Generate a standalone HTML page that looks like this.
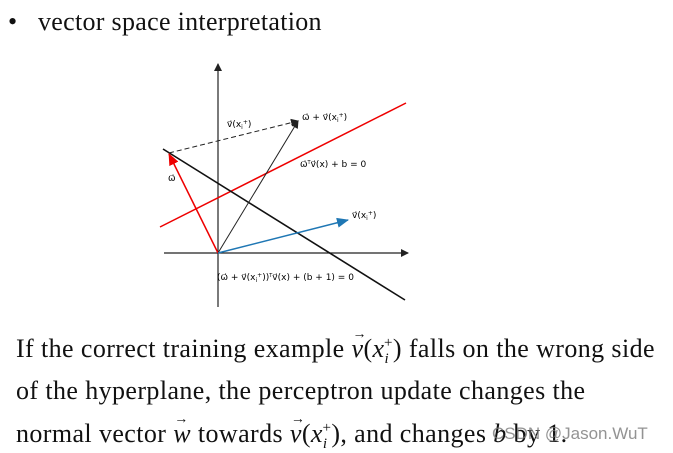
<!DOCTYPE html>
<html><head><style>
body{margin:0;width:673px;height:452px;background:#fff;overflow:hidden;position:relative;font-family:"Liberation Serif",serif;color:#111}
.t{position:absolute;white-space:nowrap;font-size:26px;letter-spacing:0.4px}
.v{position:relative;display:inline-block;font-style:italic}
.v b{position:absolute;left:1px;top:-7px;font-size:14px;font-weight:normal;font-style:normal}
sub,sup{font-size:15px}
</style></head><body>
<div class="t" style="left:8px;top:7px;letter-spacing:0.3px"><span style="display:inline-block;width:30px">•</span>vector space interpretation</div>
<svg width="673" height="452" style="position:absolute;left:0;top:0" font-family="DejaVu Sans, sans-serif" font-size="9">
<defs>
<marker id="k" markerWidth="8" markerHeight="8" refX="7" refY="4" orient="auto" markerUnits="userSpaceOnUse"><path d="M0,0L8,4L0,8z" fill="#222"/></marker>
<marker id="r" markerWidth="12" markerHeight="10" refX="11" refY="5" orient="auto" markerUnits="userSpaceOnUse"><path d="M0,0L12,5L0,10z" fill="#e00"/></marker>
<marker id="b" markerWidth="12" markerHeight="10" refX="11" refY="5" orient="auto" markerUnits="userSpaceOnUse"><path d="M0,0L12,5L0,10z" fill="#1f77b4"/></marker>
</defs>
<line x1="218" y1="307" x2="218" y2="64" stroke="#222" stroke-width="1.2" marker-end="url(#k)"/>
<line x1="164" y1="253" x2="408" y2="253" stroke="#222" stroke-width="1.2" marker-end="url(#k)"/>
<line x1="160" y1="227" x2="406" y2="103" stroke="#e00" stroke-width="1.5"/>
<line x1="163" y1="149" x2="405" y2="300" stroke="#111" stroke-width="1.6"/>
<line x1="169" y1="153" x2="298" y2="121" stroke="#222" stroke-width="1" stroke-dasharray="5,3" marker-end="url(#k)"/>
<line x1="218" y1="253" x2="298" y2="121" stroke="#222" stroke-width="1" marker-end="url(#k)"/>
<line x1="218" y1="253" x2="169" y2="154" stroke="#e00" stroke-width="1.5" marker-end="url(#r)"/>
<line x1="218" y1="253" x2="348" y2="220" stroke="#1f77b4" stroke-width="1.5" marker-end="url(#b)"/>
<text x="227" y="127">v⃗(x<tspan font-size="6" dy="2">i</tspan><tspan font-size="6" dy="-5">+</tspan><tspan dy="3">)</tspan></text>
<text x="302" y="120">ω⃗ + v⃗(x<tspan font-size="6" dy="2">i</tspan><tspan font-size="6" dy="-5">+</tspan><tspan dy="3">)</tspan></text>
<text x="300" y="167">ω⃗<tspan font-size="5" dy="-3">T</tspan><tspan dy="3">v⃗(x) + b = 0</tspan></text>
<text x="168" y="181">ω⃗</text>
<text x="352" y="218">v⃗(x<tspan font-size="6" dy="2">i</tspan><tspan font-size="6" dy="-5">+</tspan><tspan dy="3">)</tspan></text>
<text x="217" y="280">(ω⃗ + v⃗(x<tspan font-size="6" dy="2">i</tspan><tspan font-size="6" dy="-5">+</tspan><tspan dy="3">))</tspan><tspan font-size="5" dy="-3">T</tspan><tspan dy="3">v⃗(x) + (b + 1) = 0</tspan></text>
</svg>
<div class="t" style="left:16px;top:334px">If the correct training example <span class="v">v<b>→</b></span>(<i>x</i><sub><i>i</i></sub><sup style="margin-left:-5px">+</sup>) falls on the wrong side</div>
<div class="t" style="left:16px;top:376px">of the hyperplane, the perceptron update changes the</div>
<div class="t" style="left:16px;top:419px">normal vector <span class="v">w<b>→</b></span> towards <span class="v">v<b>→</b></span>(<i>x</i><sub><i>i</i></sub><sup style="margin-left:-5px">+</sup>), and changes <i>b</i> by 1.</div>
<div class="t" style="left:492px;top:424px;font-family:'Liberation Sans',sans-serif;font-size:17px;letter-spacing:0;color:rgba(120,120,120,0.8)">CSDN @Jason.WuT</div>
</body></html>
